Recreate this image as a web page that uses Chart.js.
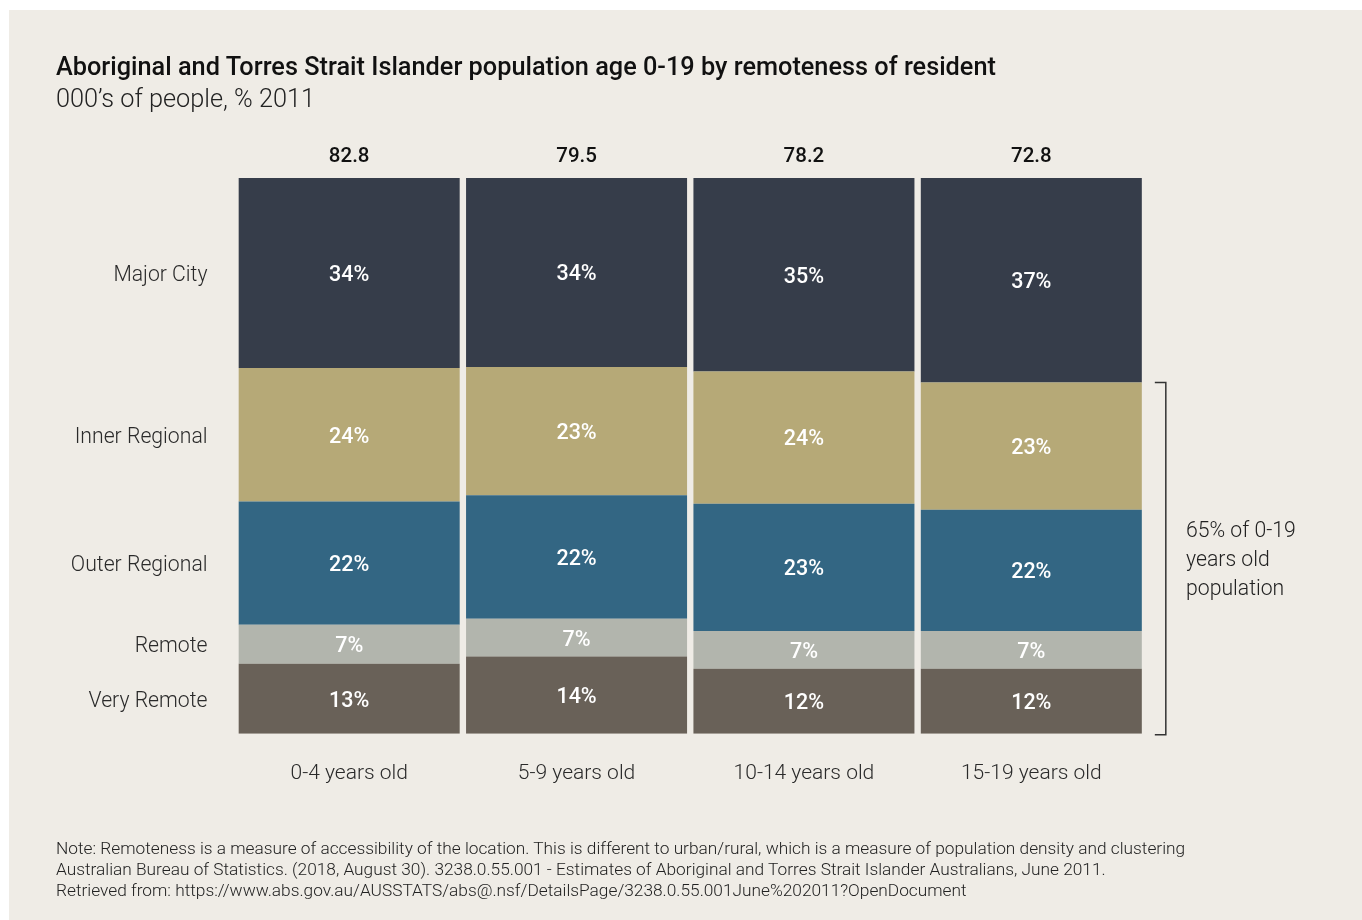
<!DOCTYPE html>
<html>
<head>
<meta charset="utf-8">
<script src="https://cdn.jsdelivr.net/npm/chart.js@4.4.0/dist/chart.umd.min.js"></script>
<style>
  body { margin: 0; background: #ffffff; font-family: Roboto, sans-serif; }
  #panel { position: absolute; left: 9px; top: 10px; width: 1353px; height: 910px; background: #efece6; }
  #chartBox { position: absolute; left: 0; top: 0; width: 1353px; height: 910px; }
  .txt { position: absolute; color: #222; white-space: nowrap; }
  #title { left: 47px; top: 42px; font-size: 25.3px; font-weight: 500; line-height: 30px; color: #111; }
  #subtitle { left: 47px; top: 74px; font-size: 25.3px; font-weight: 300; line-height: 30px; }
  #bracketNote { left: 1177px; top: 505px; font-size: 21.2px; font-weight: 300; line-height: 29px; }
  #note { left: 47px; top: 828px; font-size: 17.3px; font-weight: 300; line-height: 21px; }
</style>
</head>
<body>
<div id="panel">
  <div id="chartBox"><canvas id="myChart" width="1353" height="910"></canvas></div>
  <div class="txt" id="title">Aboriginal and Torres Strait Islander population age 0-19 by remoteness of resident</div>
  <div class="txt" id="subtitle">000’s of people, % 2011</div>
  <div class="txt" id="bracketNote">65% of 0-19<br>years old<br>population</div>
  <div class="txt" id="note">Note: Remoteness is a measure of accessibility of the location. This is different to urban/rural, which is a measure of population density and clustering<br>Australian Bureau of Statistics. (2018, August 30). 3238.0.55.001 - Estimates of Aboriginal and Torres Strait Islander Australians, June 2011.<br>Retrieved from: https://www.abs.gov.au/AUSSTATS/abs@.nsf/DetailsPage/3238.0.55.001June%202011?OpenDocument</div>
</div>
<script>
const ageGroups = ["0-4 years old", "5-9 years old", "10-14 years old", "15-19 years old"];
const totals = ["82.8", "79.5", "78.2", "72.8"];

// share of each age group, % (bottom to top in the stack)
const veryRemote = [12.6, 13.9, 11.7, 11.7];
const remote = [7.0, 6.8, 6.8, 6.8];
const outerRegional = [22.2, 22.2, 22.9, 21.8];
const innerRegional = [24.0, 23.1, 23.8, 22.9];
const majorCity = [34.2, 34.1, 34.8, 36.8];

const labelFont = "Roboto";

// percent labels inside the bars, totals on top, row names on the left, bracket on the right
const annotations = {
  id: "annotations",
  afterDatasetsDraw(chart) {
    const ctx = chart.ctx;
    const area = chart.chartArea;
    ctx.save();

    chart.data.datasets.forEach((ds, i) => {
      const meta = chart.getDatasetMeta(i);
      meta.data.forEach((bar, j) => {
        ctx.fillStyle = "#ffffff";
        ctx.font = "500 21.5px " + labelFont;
        ctx.textAlign = "center";
        ctx.textBaseline = "middle";
        ctx.fillText(Math.round(ds.data[j]) + "%", bar.x, (bar.y + bar.base) / 2 + 2.5);
      });
      // row name beside first bar
      const first = meta.data[0];
      ctx.fillStyle = "#2a2a2a";
      ctx.font = "300 21.2px " + labelFont;
      ctx.textAlign = "right";
      ctx.fillText(ds.label, area.left - 28, (first.y + first.base) / 2 + 2.5);
    });

    // totals
    const topMeta = chart.getDatasetMeta(chart.data.datasets.length - 1);
    topMeta.data.forEach((bar, j) => {
      ctx.fillStyle = "#111111";
      ctx.font = "500 20.5px " + labelFont;
      ctx.textAlign = "center";
      ctx.textBaseline = "middle";
      ctx.fillText(totals[j], bar.x, area.top - 21);
    });

    // bracket around the non-major-city part of the last bar
    const last = topMeta.data[topMeta.data.length - 1];
    const bx = last.x + last.width / 2 + 24;
    ctx.strokeStyle = "#333333";
    ctx.lineWidth = 1.5;
    ctx.beginPath();
    ctx.moveTo(bx - 11, last.base);
    ctx.lineTo(bx, last.base);
    ctx.lineTo(bx, area.bottom + 1);
    ctx.lineTo(bx - 11, area.bottom + 1);
    ctx.stroke();

    ctx.restore();
  }
};

const ctx = document.getElementById("myChart");
new Chart(ctx, {
  type: "bar",
  data: {
    labels: ageGroups,
    datasets: [
      { label: "Very Remote", data: veryRemote, backgroundColor: "#696158" },
      { label: "Remote", data: remote, backgroundColor: "#b2b5ad" },
      { label: "Outer Regional", data: outerRegional, backgroundColor: "#336683" },
      { label: "Inner Regional", data: innerRegional, backgroundColor: "#b6a977" },
      { label: "Major City", data: majorCity, backgroundColor: "#363d4a" }
    ]
  },
  options: {
    responsive: false,
    animation: false,
    layout: { padding: { left: 226.5, right: 217, top: 168, bottom: 115 } },
    datasets: { bar: { barPercentage: 0.972, categoryPercentage: 1, borderWidth: 0 } },
    scales: {
      x: {
        stacked: true,
        grid: { display: false },
        border: { display: false },
        ticks: { color: "#2a2a2a", font: { family: labelFont, size: 21, weight: "300" }, padding: 19 }
      },
      y: {
        stacked: true,
        display: false,
        min: 0,
        max: 100
      }
    },
    plugins: {
      legend: { display: false },
      tooltip: { enabled: false }
    }
  },
  plugins: [annotations]
});
</script>
</body>
</html>
